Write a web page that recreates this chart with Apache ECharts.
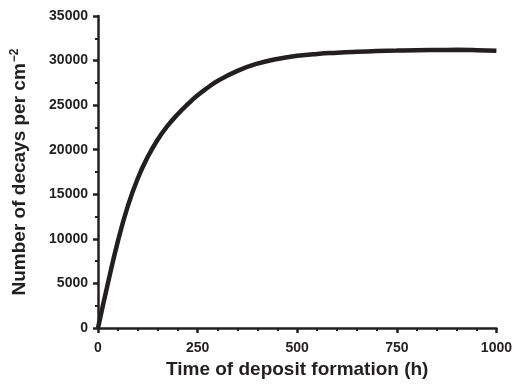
<!DOCTYPE html>
<html>
<head>
<meta charset="utf-8">
<script src="https://cdn.jsdelivr.net/npm/echarts@6/dist/echarts.min.js"></script>
<style>html,body{margin:0;padding:0;background:#fff}#c{width:515px;height:387px}</style>
</head>
<body>
<div id="c"></div>
<script>
var hours = [0, 25, 50, 75, 100, 125, 150, 175, 200, 225, 250, 275, 300, 350, 400, 450, 500, 550, 600, 650, 700, 750, 800, 850, 900, 950, 1000];
var decays = [0, 5050, 9750, 13700, 16800, 19200, 21150, 22700, 23980, 25100, 26100, 26950, 27700, 28850, 29650, 30180, 30530, 30750, 30880, 30980, 31060, 31120, 31170, 31190, 31200, 31170, 31100];
var xTicks = [0, 250, 500, 750, 1000];
var yTicks = [0, 5000, 10000, 15000, 20000, 25000, 30000, 35000];

var ink = '#231f20';
var font = 'Liberation Sans';
var chart = echarts.init(document.getElementById('c'), null, {renderer: 'canvas'});
chart.setOption({
  animation: false,
  backgroundColor: '#fff',
  grid: {left: 98, right: 17, top: 16, bottom: 59},
  xAxis: {
    type: 'value', min: xTicks[0], max: xTicks[xTicks.length - 1], interval: 250,
    name: 'Time of deposit formation (h)', nameLocation: 'middle', nameGap: 32,
    nameTextStyle: {fontFamily: font, fontWeight: 'bold', fontSize: 19, color: ink},
    axisLine: {lineStyle: {color: ink, width: 2.5}},
    axisTick: {show: true, inside: false, length: 5, lineStyle: {color: ink, width: 2.5}},
    minorTick: {show: true, splitNumber: 5, length: 3, lineStyle: {color: ink, width: 2}},
    axisLabel: {fontFamily: font, fontWeight: 'bold', fontSize: 14, color: ink, margin: 13,
      formatter: function (v) { return String(v); }},
    splitLine: {show: false}
  },
  yAxis: {
    type: 'value', min: yTicks[0], max: yTicks[yTicks.length - 1], interval: 5000,
    name: '{n|Number of decays per cm}{s|−2}', nameLocation: 'middle', nameGap: 67, nameRotate: 90,
    nameTextStyle: {
      fontFamily: font, fontWeight: 'bold', fontSize: 19, color: ink,
      rich: {
        n: {fontFamily: font, fontWeight: 'bold', fontSize: 19, color: ink, lineHeight: 22},
        s: {fontFamily: font, fontWeight: 'bold', fontSize: 12, color: ink, verticalAlign: 'top', lineHeight: 22, padding: [0, 0, 9, 1]}
      }
    },
    axisLine: {lineStyle: {color: ink, width: 2.5}},
    axisTick: {show: true, inside: false, length: 5, lineStyle: {color: ink, width: 2.5}},
    minorTick: {show: true, splitNumber: 2, length: 3, lineStyle: {color: ink, width: 2}},
    axisLabel: {fontFamily: font, fontWeight: 'bold', fontSize: 14, color: ink, margin: 10,
      formatter: function (v) { return String(v); }},
    splitLine: {show: false}
  },
  series: [{
    type: 'line',
    data: hours.map(function (h, i) { return [h, decays[i]]; }),
    smooth: 0.5,
    showSymbol: false,
    lineStyle: {color: ink, width: 4.5},
    z: 1
  }]
});
</script>
</body>
</html>
